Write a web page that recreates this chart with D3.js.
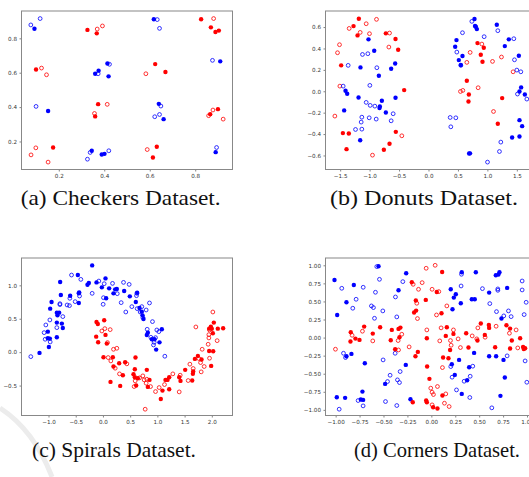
<!DOCTYPE html>
<html>
<head>
<meta charset="utf-8">
<script src="https://cdn.jsdelivr.net/npm/d3@7"></script>
<style>
  body { margin: 0; background: #fff; }
  .tick text { font-family: "DejaVu Sans", sans-serif; font-size: 5.6px; fill: #333; }
  .tick line { stroke: #666; stroke-width: 0.8; }
  .caption { font-family: "Liberation Serif", "Times New Roman", serif; font-size: 21px; fill: #111; }
</style>
</head>
<body>
<div id="chart"></div>
<script>
// ---- data: [x, y]; train = filled marker, test = open marker ----
var checkersRedTrain = [[0.326,0.849],[0.367,0.829],[0.826,0.911],[0.869,0.864],[0.889,0.837],[0.904,0.845],
  [0.100,0.619],[0.624,0.650],[0.669,0.604],[0.373,0.417],[0.360,0.346],[0.866,0.359],[0.900,0.388],
  [0.175,0.165],[0.631,0.169],[0.614,0.107]];
var checkersRedTest = [[0.369,0.854],[0.392,0.872],[0.881,0.915],[0.124,0.627],[0.146,0.588],[0.583,0.594],
  [0.413,0.416],[0.357,0.363],[0.859,0.350],[0.878,0.383],[0.923,0.330],[0.078,0.122],[0.099,0.163],
  [0.153,0.080],[0.589,0.153]];
var checkersBlueTrain = [[0.093,0.856],[0.618,0.911],[0.360,0.594],[0.375,0.612],[0.414,0.654],[0.419,0.579],
  [0.910,0.666],[0.153,0.377],[0.640,0.419],[0.661,0.330],[0.345,0.146],[0.389,0.124],[0.401,0.128],
  [0.890,0.138]];
var checkersBlueTest = [[0.077,0.878],[0.118,0.915],[0.633,0.909],[0.643,0.858],[0.373,0.594],[0.423,0.649],
  [0.876,0.672],[0.100,0.404],[0.649,0.406],[0.622,0.344],[0.643,0.357],[0.326,0.097],[0.338,0.136],
  [0.420,0.146],[0.894,0.165]];

var donutsRedTrain = [[-1.183,0.678],[-1.273,0.609],[-1.205,0.522],[-0.724,0.541],[-0.560,0.488],[-0.515,0.388],
  [-1.483,0.242],[-0.413,0.011],[-1.454,-0.391],[-1.353,-0.394],[-1.392,-0.541],[-0.555,-0.379],
  [-0.662,-0.491],[-0.758,-0.547],[0.832,0.450],[0.939,0.406],[0.888,0.341],[0.917,0.276],[0.651,0.098],
  [0.685,-0.030],[0.679,-0.095],[1.251,-0.064],[1.177,-0.304]];
var donutsRedTest = [[-1.347,0.587],[-1.160,0.550],[-1.058,0.631],[-0.883,0.672],[-1.002,0.538],[-0.662,0.544],
  [-0.673,0.413],[-1.511,0.435],[-1.545,0.360],[-1.505,0.048],[-1.590,-0.232],[-0.453,-0.416],
  [-0.951,-0.597],[0.906,0.441],[0.707,0.363],[0.651,0.270],[1.087,0.279],[1.239,0.320],[1.437,0.182],
  [0.583,0.008],[0.543,-0.002],[0.843,0.033],[1.104,-0.189]];
var donutsBlueTrain = [[-1.019,0.485],[-0.922,0.379],[-1.155,0.223],[-0.566,0.260],[-0.634,0.210],[-0.843,0.145],
  [-1.409,0.005],[-1.381,-0.023],[-1.188,-0.058],[-0.560,-0.061],[-0.826,-0.142],[-0.832,-0.157],
  [-0.792,-0.089],[-0.724,-0.198],[-1.432,-0.179],[-1.160,-0.457],[0.781,0.675],[0.804,0.603],
  [0.821,0.581],[0.790,0.610],[0.475,0.478],[1.160,0.622],[1.364,0.485],[1.296,0.422],[0.453,0.416],
  [0.577,0.329],[0.515,0.291],[0.549,0.245],[1.534,0.332],[1.573,0.036],[1.545,-0.002],[1.636,-0.030],
  [1.545,-0.270],[1.590,-0.326],[1.420,-0.432],[1.545,-0.422],[0.690,-0.581],[0.705,-0.580]];
var donutsBlueTest = [[-1.030,0.351],[-1.121,0.344],[-1.364,0.242],[-0.877,0.220],[-0.996,0.055],[-1.449,0.048],
  [-1.058,-0.104],[-0.990,-0.132],[-0.911,-0.139],[-0.600,-0.210],[-0.634,-0.276],[-1.132,-0.242],
  [-1.007,-0.248],[-0.888,-0.260],[-1.143,-0.288],[-1.132,-0.354],[-1.239,-0.357],[0.736,0.653],
  [0.577,0.547],[0.945,0.510],[1.177,0.566],[1.449,0.491],[0.481,0.366],[0.549,0.242],[1.460,0.294],
  [1.500,0.198],[1.568,0.182],[1.511,-0.026],[1.670,-0.073],[0.368,-0.245],[0.464,-0.248],[0.379,-0.332],
  [1.228,-0.475],[1.205,-0.563],[1.002,-0.662]];

var spiralsBlueTrain = [[-1.165,-0.011],[-0.993,0.078],[-1.012,0.208],[-0.975,0.203],[-1.012,0.307],[-0.847,0.222],
  [-0.847,0.442],[-0.737,0.362],[-0.755,0.427],[-0.835,0.551],[-0.847,0.591],[-0.804,0.591],[-0.969,0.651],
  [-0.944,0.751],[-0.773,0.855],[-0.786,1.050],[-0.602,0.845],[-0.461,1.154],[-0.437,0.895],[-0.443,0.880],
  [-0.443,0.736],[-0.284,1.009],[-0.259,1.034],[-0.198,1.298],[-0.118,1.044],[-0.020,0.970],[0.047,1.104],
  [0.059,0.806],[0.114,0.955],[0.194,0.880],[0.225,0.940],[0.255,0.945],[0.390,0.915],[0.494,0.835],
  [0.629,0.890],[0.604,0.751],[0.672,0.661],[0.714,0.606],[0.727,0.551],[0.745,0.496],[0.825,0.292],
  [0.806,0.257],[0.898,0.192],[0.947,0.192],[1.039,0.147],[1.082,0.342],[0.978,0.038]];
var spiralsBlueTest = [[-1.325,-0.067],[-0.969,0.153],[-1.061,0.193],[-1.080,0.292],[-1.049,0.407],[-0.975,0.482],
  [-0.847,0.367],[-0.737,0.532],[-0.790,0.711],[-0.790,0.725],[-0.658,0.706],[-0.615,0.696],[-0.608,0.806],
  [-0.577,1.154],[-0.406,1.089],[-0.430,0.840],[-0.510,0.756],[-0.198,0.880],[-0.075,1.064],[0.023,1.024],
  [0.010,0.815],[0.004,0.716],[0.176,1.029],[0.263,0.875],[0.378,1.044],[0.482,1.014],[0.335,0.741],
  [0.420,0.601],[0.616,0.845],[0.623,0.880],[0.531,0.681],[0.629,0.651],[0.714,0.681],[0.684,0.601],
  [0.794,0.631],[0.855,0.736],[0.733,0.516],[0.910,0.457],[0.813,0.342],[0.880,0.222],[0.966,0.217],
  [0.941,0.147],[0.929,0.108],[0.990,0.332],[1.027,0.307],[1.137,-0.061]];
var spiralsRedTrain = [[-0.118,0.452],[-0.094,0.422],[-0.124,0.232],[-0.088,0.148],[0.023,0.477],[0.047,0.258],
  [0.071,0.128],[0.010,-0.076],[0.182,-0.076],[0.194,-0.215],[0.298,-0.165],[0.408,-0.150],[0.598,-0.081],
  [0.139,-0.445],[0.317,-0.505],[0.366,-0.345],[0.561,-0.330],[0.586,-0.255],[0.586,-0.375],[0.641,-0.390],
  [0.610,-0.500],[0.806,-0.265],[0.855,-0.415],[0.825,-0.520],[1.063,-0.700],[1.094,-0.575],[1.149,-0.415],
  [1.186,-0.415],[1.217,-0.555],[1.217,-0.375],[1.401,-0.375],[1.425,-0.430],[1.511,-0.265],[1.640,-0.425],
  [1.658,-0.290],[1.652,-0.325],[1.689,-0.101],[1.744,-0.056],[1.811,-0.111],[1.951,0.018],[1.988,-0.206],
  [2.025,0.013],[2.019,0.282],[1.951,0.352],[1.982,0.382],[2.000,0.350],[2.037,0.442],[2.110,0.352],
  [2.208,0.357]];
var spiralsRedTest = [[-0.020,0.317],[0.035,0.352],[0.133,0.337],[0.084,0.143],[0.096,-0.081],[0.145,-0.131],
  [0.194,0.043],[0.255,0.058],[0.225,-0.240],[0.439,-0.175],[0.304,-0.325],[0.592,-0.430],[0.574,-0.515],
  [0.672,-0.385],[0.733,-0.355],[0.757,-0.415],[0.806,-0.405],[0.794,-0.465],[0.874,-0.515],[0.776,-0.854],
  [0.966,-0.590],[1.033,-0.530],[1.131,-0.485],[1.284,-0.325],[1.419,-0.345],[1.401,-0.595],[1.566,-0.425],
  [1.597,-0.180],[1.658,-0.245],[1.762,-0.096],[1.793,-0.156],[1.805,-0.295],[1.860,-0.215],[1.823,0.043],
  [1.707,0.377],[1.933,0.118],[1.958,-0.091],[1.946,0.213],[1.946,0.262],[2.019,0.601],[2.098,0.172],
  [1.958,0.332]];

var cornersBlueTrain = [[-1.012,0.797],[-0.810,0.728],[-0.887,0.488],[-0.984,0.313],[-0.552,0.986],[-0.263,0.889],
  [-0.343,0.654],[-0.887,-0.258],[-0.835,-0.226],[-0.695,-0.355],[-0.267,-0.378],[-0.483,-0.641],
  [-0.988,-0.825],[-0.901,-0.834],[-0.720,-0.747],[-0.737,-0.857],[-0.713,-0.862],[-0.218,-0.853],
  [0.318,0.903],[0.465,0.903],[0.701,0.871],[0.674,0.862],[0.712,0.903],[0.792,0.687],[0.604,0.622],
  [0.203,0.668],[0.256,0.599],[0.235,0.553],[0.308,0.475],[0.423,0.530],[0.454,0.530],[0.221,0.392],
  [0.733,0.263],[0.447,-0.212],[0.604,-0.258],[0.677,-0.258],[0.754,-0.309],[0.290,-0.309],[0.214,-0.369],
  [0.245,-0.516],[0.395,-0.410],[0.374,-0.590],[0.318,-0.779],[0.768,-0.553],[0.722,-0.806]];
var cornersBlueTest = [[-0.936,0.682],[-0.712,0.696],[-0.821,0.406],[-0.786,0.530],[-0.584,0.627],[-0.570,0.982],
  [-0.542,0.806],[-0.298,0.774],[-0.375,0.562],[-0.626,0.438],[-0.605,0.415],[-0.507,0.369],[-0.594,0.267],
  [-0.361,0.286],[-0.918,-0.217],[-0.897,-0.276],[-0.504,-0.309],[-0.378,-0.217],[-0.326,-0.470],
  [-0.431,-0.521],[-0.458,-0.608],[-0.354,-0.585],[-0.333,-0.622],[-0.765,-0.871],[-0.713,-0.945],
  [-0.963,-0.991],[-0.479,-0.885],[-0.361,-0.940],[0.315,0.876],[0.695,0.673],[0.695,0.654],[0.534,0.677],
  [0.311,0.714],[0.611,0.470],[0.681,0.359],[0.806,0.369],[0.757,0.300],[0.834,0.290],[0.949,0.783],
  [0.949,0.659],[0.991,0.488],[0.970,0.318],[0.792,-0.253],[0.980,-0.323],[0.203,-0.401],[0.217,-0.548],
  [0.433,-0.396],[0.406,-0.535],[0.343,-0.604],[0.263,-0.724],[0.402,-0.829],[0.632,-0.972],[0.998,-0.618]];
var cornersRedTrain = [[0.113,0.908],[-0.204,0.765],[-0.058,0.521],[-0.162,0.512],[0.057,0.631],[-0.159,0.373],
  [-0.180,0.346],[0.106,0.336],[-0.535,0.143],[-0.702,0.152],[-0.612,0.055],[-0.842,0.074],[-0.793,-0.014],
  [-0.845,-0.055],[-0.751,-0.032],[-0.413,0.106],[-0.343,0.120],[-0.323,0.138],[-0.333,0.005],
  [-0.424,-0.037],[-0.378,-0.161],[-0.141,-0.198],[-0.166,-0.258],[-0.044,-0.401],[-0.047,-0.009],
  [0.162,0.143],[0.231,0.051],[0.151,0.023],[0.196,-0.171],[0.364,0.060],[0.482,-0.041],[0.388,-0.138],
  [0.123,-0.276],[0.179,-0.286],[0.517,0.194],[0.601,0.175],[0.604,0.134],[0.559,0.037],[0.785,0.171],
  [0.823,0.124],[0.841,-0.041],[0.667,-0.134],[0.823,-0.152],[0.928,-0.009],[0.959,-0.129],[0.966,-0.157],
  [0.980,-0.147],[-0.020,-0.571],[0.116,-0.802],[-0.054,-0.871],[-0.047,-0.894],[0.019,-0.963],
  [0.064,-0.982],[-0.194,-0.894]];
var cornersRedTest = [[-0.054,0.959],[0.040,1.000],[-0.190,0.737],[-0.096,0.760],[-0.134,0.668],[-0.152,0.475],
  [0.008,0.668],[0.078,0.636],[-0.145,0.263],[0.162,0.438],[0.054,0.313],[-0.720,0.088],[-0.828,0.032],
  [-0.612,-0.046],[-1.002,-0.161],[-0.309,0.046],[-0.347,-0.041],[-0.232,-0.129],[-0.343,-0.171],
  [-0.047,0.106],[0.102,0.134],[0.231,0.106],[0.088,-0.046],[0.200,-0.041],[0.207,-0.106],[0.304,-0.138],
  [0.280,-0.018],[0.427,0.023],[0.475,-0.018],[0.116,-0.415],[0.486,0.134],[0.562,0.005],[0.677,0.157],
  [0.816,0.060],[0.886,0.106],[0.903,-0.143],[-0.006,-0.700],[0.008,-0.756],[0.022,-0.788],[0.064,-0.677],
  [0.151,-0.779],[0.008,-0.931],[0.137,-0.908],[0.186,-0.954]];

// axis limits and tick values
var checkersXLim = [0.036, 0.964], checkersYLim = [0.037, 0.959];
var donutsXLim = [-1.749, 1.834], donutsYLim = [-0.731, 0.750];
var spiralsXLim = [-1.496, 2.380], spiralsYLim = [-0.948, 1.409];
var cornersXLim = [-1.106, 1.099], cornersYLim = [-1.078, 1.101];

var checkersTicks = [0.2, 0.4, 0.6, 0.8];
var donutsXTicks = [-1.5, -1.0, -0.5, 0.0, 0.5, 1.0, 1.5];
var donutsYTicks = [-0.6, -0.4, -0.2, 0.0, 0.2, 0.4, 0.6];
var spiralsXTicks = [-1.0, -0.5, 0.0, 0.5, 1.0, 1.5, 2.0];
var spiralsYTicks = [-0.5, 0.0, 0.5, 1.0];
var cornersTicks = [-1.0, -0.75, -0.5, -0.25, 0.0, 0.25, 0.5, 0.75, 1.0];

var captions = ["(a) Checkers Dataset.", "(b) Donuts Dataset.", "(c) Spirals Dataset.", "(d) Corners Dataset."];

var w = 529, h = 477;
var blue = "#0000ff", red = "#ff0000";

var svg = d3.select("#chart")
  .append("svg")
  .attr("width", w)
  .attr("height", h);

// faint watermark arc in lower left corner
svg.append("path")
  .attr("d", "M0,408 Q34,430 52,477")
  .attr("fill", "none")
  .attr("stroke", "#ececec")
  .attr("stroke-width", 5);

var panels = [
  {left: 21.5, right: 232.5, top: 11, bottom: 169.5, xlim: checkersXLim, ylim: checkersYLim,
   xt: checkersTicks, yt: checkersTicks, fx: ".1f", fy: ".1f",
   series: [[checkersRedTrain, red, true], [checkersRedTest, red, false], [checkersBlueTrain, blue, true], [checkersBlueTest, blue, false]],
   cap: captions[0], cx: 20.7, cw: 200, cy: 205},
  {left: 325.5, right: 536.5, top: 11, bottom: 169.5, xlim: donutsXLim, ylim: donutsYLim,
   xt: donutsXTicks, yt: donutsYTicks, fx: ".1f", fy: ".1f",
   series: [[donutsRedTrain, red, true], [donutsRedTest, red, false], [donutsBlueTrain, blue, true], [donutsBlueTest, blue, false]],
   cap: captions[1], cx: 330, cw: 188, cy: 205},
  {left: 21.5, right: 232.5, top: 258, bottom: 415.5, xlim: spiralsXLim, ylim: spiralsYLim,
   xt: spiralsXTicks, yt: spiralsYTicks, fx: ".1f", fy: ".1f",
   series: [[spiralsBlueTrain, blue, true], [spiralsBlueTest, blue, false], [spiralsRedTrain, red, true], [spiralsRedTest, red, false]],
   cap: captions[2], cx: 32, cw: 164, cy: 457},
  {left: 325.5, right: 536.5, top: 258, bottom: 415.5, xlim: cornersXLim, ylim: cornersYLim,
   xt: cornersTicks, yt: cornersTicks, fx: ".2f", fy: ".2f",
   series: [[cornersBlueTrain, blue, true], [cornersBlueTest, blue, false], [cornersRedTrain, red, true], [cornersRedTest, red, false]],
   cap: captions[3], cx: 354, cw: 166, cy: 457}
];

panels.forEach(function(p){
  var x = d3.scaleLinear().domain(p.xlim).range([p.left, p.right]);
  var y = d3.scaleLinear().domain(p.ylim).range([p.bottom, p.top]);

  var g = svg.append("g");

  g.append("g")
    .attr("transform", "translate(0," + p.bottom + ")")
    .call(d3.axisBottom(x).tickValues(p.xt).tickFormat(d3.format(p.fx)).tickSize(2).tickPadding(2.6))
    .call(function(a){ a.select(".domain").remove(); });

  g.append("g")
    .attr("transform", "translate(" + p.left + ",0)")
    .call(d3.axisLeft(y).tickValues(p.yt).tickFormat(d3.format(p.fy)).tickSize(2).tickPadding(2.5))
    .call(function(a){ a.select(".domain").remove(); });

  p.series.forEach(function(s){
    g.append("g").selectAll("circle")
      .data(s[0])
      .enter()
      .append("circle")
      .attr("cx", function(d){ return x(d[0]); })
      .attr("cy", function(d){ return y(d[1]); })
      .attr("r", s[2] ? 2.2 : 1.9)
      .attr("fill", s[2] ? s[1] : "none")
      .attr("stroke", s[1])
      .attr("stroke-width", s[2] ? 0 : 0.8);
  });

  g.append("rect")
    .attr("x", p.left)
    .attr("y", p.top)
    .attr("width", p.right - p.left)
    .attr("height", p.bottom - p.top)
    .attr("fill", "none")
    .attr("stroke", "#888")
    .attr("stroke-width", 1);

  svg.append("text")
    .attr("class", "caption")
    .attr("x", p.cx)
    .attr("y", p.cy)
    .attr("textLength", p.cw)
    .attr("lengthAdjust", "spacingAndGlyphs")
    .text(p.cap);
});
</script>
</body>
</html>
